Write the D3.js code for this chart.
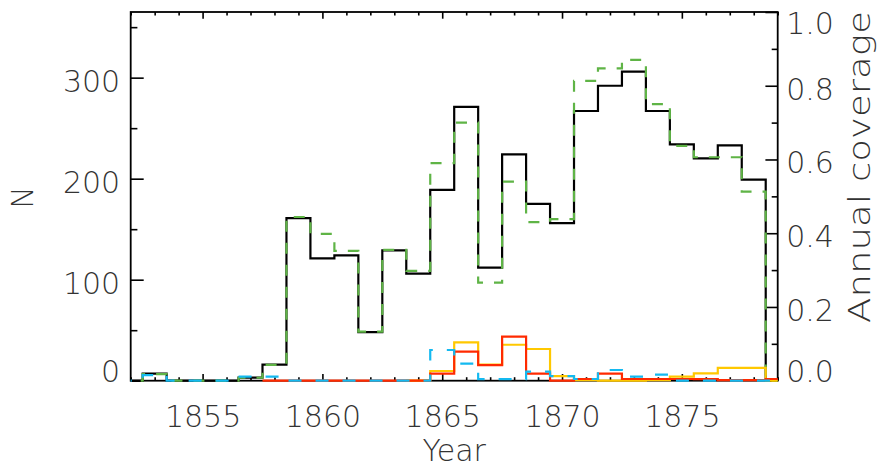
<!DOCTYPE html>
<html>
<head>
<meta charset="utf-8">
<script src="https://cdn.jsdelivr.net/npm/d3@7"></script>
<style>
  html, body { margin: 0; padding: 0; background: #fff; }
  svg text { font-family: "DejaVu Sans", sans-serif; font-weight: 200; fill: #333; }
</style>
</head>
<body>
<svg id="chart" width="879" height="468"></svg>
<script>
// ---- data (one histogram bin per year, centred on the year) ----
const years = [1852,1853,1854,1855,1856,1857,1858,1859,1860,1861,1862,1863,1864,1865,
               1866,1867,1868,1869,1870,1871,1872,1873,1874,1875,1876,1877,1878,1879];
// black solid: N (left axis)
const nTotal = [0,7,0,0,0,3,16,161,121,124,48,129,106,189,
                271,112,224,175,156,267,292,306,267,234,220,233,199,0];
// green dashed: annual coverage (right axis)
const coverage = [0,0.018,0,0,0,0.008,0.043,0.444,0.398,0.352,0.133,0.355,0.298,0.59,
                  0.70,0.266,0.54,0.43,0.438,0.813,0.847,0.870,0.750,0.637,0.606,0.606,0.513,0];
// yellow solid: N (left axis)
const nYellow = [null,null,null,null,null,null,null,null,null,null,null,null,0,9.6,
                 38,16,35.6,31.4,4.5,0.5,0,0,0.5,4,7.3,12.6,12.6,0];
// red solid: N (left axis)
const nRed = [null,null,null,null,null,null,0,0,0,0,0,0,0,7,
              28.7,15.5,43.6,7,0,1.7,7,1.7,1.7,1.7,1.5,0.5,0.5,1.7];
// cyan dashed: N (left axis)
const nCyan = [0,5.5,0,0,0,4,4,0,0,0,0,0,0,30.4,
               17,1.5,1.5,9,4.5,1.7,10.6,4,6,0,0,0,0,0];

const leftTicks = [0,100,200,300];
const leftMinor = [50,150,250,350];
const rightTicks = [0,0.2,0.4,0.6,0.8,1.0];
const rightMinor = [0.1,0.3,0.5,0.7,0.9];
const xTicks = [1855,1860,1865,1870,1875];
const xMinor = years;

// ---- layout ----
const L = 130.7, R = 777.7, T = 12, B = 380.7;
const svg = d3.select("#chart");
const x = d3.scaleLinear().domain([1852, 1879]).range([L, R]);
const yL = d3.scaleLinear().domain([0, 365]).range([B, T]);
const yR = d3.scaleLinear().domain([0, 1]).range([B, T]);

svg.append("defs").append("clipPath").attr("id", "plotclip")
  .append("rect").attr("x", L).attr("y", T - 2).attr("width", R - L).attr("height", B - T + 4);

function styleAxis(g) {
  g.select(".domain").remove();
  g.selectAll("line").attr("stroke", "#000").attr("stroke-width", 1.6);
  g.selectAll("text").attr("font-size", 30).attr("fill", "#333");
}

// minor ticks
svg.append("g").attr("transform", `translate(${L},0)`)
  .call(d3.axisLeft(yL).tickValues(leftMinor).tickSize(-6.7).tickFormat(""))
  .call(styleAxis);
svg.append("g").attr("transform", `translate(${R},0)`)
  .call(d3.axisRight(yR).tickValues(rightMinor).tickSize(-6).tickFormat(""))
  .call(styleAxis);
svg.append("g").attr("transform", `translate(0,${B})`)
  .call(d3.axisBottom(x).tickValues(xMinor.filter(v => xTicks.indexOf(v) < 0)).tickSize(-3.5).tickFormat(""))
  .call(styleAxis);
svg.append("g").attr("transform", `translate(0,${T})`)
  .call(d3.axisTop(x).tickValues(xMinor.filter(v => xTicks.indexOf(v) < 0)).tickSize(-3.5).tickFormat(""))
  .call(styleAxis);

// major ticks + labels
svg.append("g").attr("transform", `translate(${L},0)`)
  .call(d3.axisLeft(yL).tickValues(leftTicks).tickSize(-13).tickPadding(10.5).tickFormat(d3.format("d")))
  .call(styleAxis)
  .call(g => g.selectAll("text").attr("dy", d => d === 0 ? "0.03em" : "0.46em"));
svg.append("g").attr("transform", `translate(${R},0)`)
  .call(d3.axisRight(yR).tickValues(rightTicks).tickSize(-12.3).tickPadding(8.5).tickFormat(d3.format(".1f")))
  .call(styleAxis)
  .call(g => g.selectAll("text").attr("dy", d => d === 0 ? "0.03em" : (d === 1 ? "0.73em" : "0.45em")));
svg.append("g").attr("transform", `translate(0,${B})`)
  .call(d3.axisBottom(x).tickValues(xTicks).tickSize(-6.7).tickPadding(24.7).tickFormat(d3.format("d")))
  .call(styleAxis);
svg.append("g").attr("transform", `translate(0,${T})`)
  .call(d3.axisTop(x).tickValues(xTicks).tickSize(-6.7).tickFormat(""))
  .call(styleAxis);

// frame
svg.append("rect").attr("x", L).attr("y", T).attr("width", R - L).attr("height", B - T)
  .attr("fill", "none").attr("stroke", "#000").attr("stroke-width", 1.8);

// titles
svg.append("text").attr("transform", "translate(33.4,197.5) rotate(-90)")
  .attr("text-anchor", "middle").attr("font-size", 30).text("N");
svg.append("text").attr("transform", "translate(870,167) rotate(-90)")
  .attr("text-anchor", "middle").attr("font-size", 30)
  .attr("textLength", 312).attr("lengthAdjust", "spacingAndGlyphs")
  .text("Annual coverage");
svg.append("text").attr("x", (L + R) / 2).attr("y", 461)
  .attr("text-anchor", "middle").attr("font-size", 30).text("Year");

// ---- step histograms ----
function stepPath(vals, y) {
  const pts = [];
  let last = null;
  years.forEach((yr, i) => {
    if (vals[i] === null) return;
    pts.push([x(yr - 0.5), y(vals[i])]);
    last = [x(yr + 0.5), y(vals[i])];
  });
  if (last) pts.push(last);
  return d3.line().curve(d3.curveStepAfter)(pts);
}

const plot = svg.append("g").attr("clip-path", "url(#plotclip)");
const series = [
  { vals: nTotal,   y: yL, color: "#000000", dash: null },
  { vals: coverage, y: yR, color: "#5fb446", dash: "11,11" },
  { vals: nYellow,  y: yL, color: "#ffc800", dash: null },
  { vals: nRed,     y: yL, color: "#ff2a00", dash: null },
  { vals: nCyan,    y: yL, color: "#14b9f0", dash: "13,14" }
];
series.forEach(s => {
  plot.append("path")
    .attr("d", stepPath(s.vals, s.y))
    .attr("fill", "none")
    .attr("stroke", s.color)
    .attr("stroke-width", 2.2)
    .attr("stroke-dasharray", s.dash);
});
</script>
</body>
</html>
